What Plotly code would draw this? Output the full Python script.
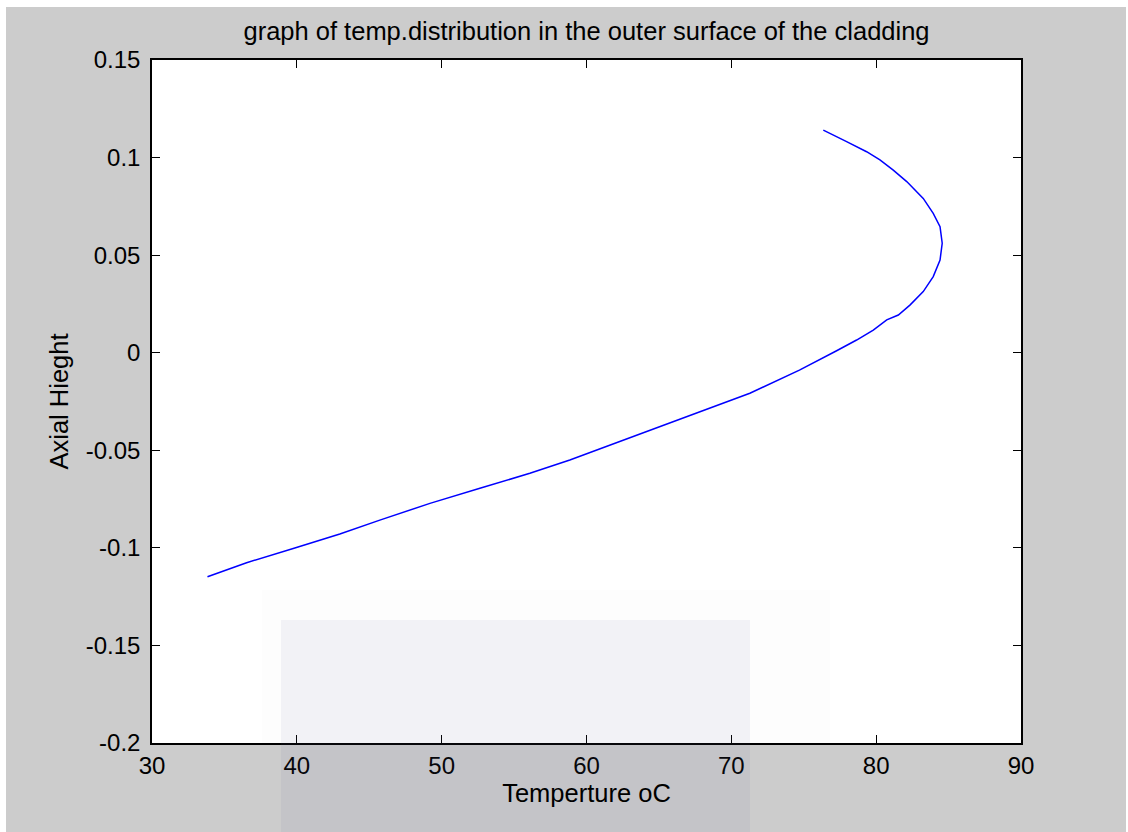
import plotly.graph_objects as go

# Data
temperature = [33.83, 36.53, 39.75, 42.97, 45.73, 49.19, 52.64, 56.09, 58.85, 62.3,
               65.76, 69.2, 71.28, 74.7, 75.89, 77.27, 78.65, 79.80, 80.73, 81.53,
               82.33, 83.25, 83.94, 84.41, 84.56, 84.41, 83.94, 83.25, 82.11, 81.18,
               80.26, 79.34, 77.96, 76.35]
axial_height = [-0.1148, -0.1076, -0.1003, -0.0929, -0.0858, -0.0772, -0.0695, -0.0618,
                -0.055, -0.0456, -0.0362, -0.0268, -0.0208, -0.0089, -0.0045, 0.0010,
                0.0065, 0.0116, 0.0168, 0.0193, 0.0244, 0.0313, 0.0390, 0.0475, 0.0561,
                0.0646, 0.0714, 0.0791, 0.0877, 0.0936, 0.0988, 0.1030, 0.1082, 0.1141]

x_ticks = [30, 40, 50, 60, 70, 80, 90]
y_ticks = [0.15, 0.1, 0.05, 0, -0.05, -0.1, -0.15, -0.2]
y_tick_text = ["0.15", "0.1", "0.05", "0", "-0.05", "-0.1", "-0.15", "-0.2"]

FONT = "Liberation Sans, Arial, sans-serif"

fig = go.Figure()
fig.add_trace(go.Scatter(x=temperature, y=axial_height, mode="lines",
                         line=dict(color="#0000ff", width=1.5), showlegend=False,
                         hoverinfo="skip"))

W, H = 1128, 832
ml, mr, mt, mb = 152, 107, 60, 89
pw, ph = W - ml - mr, H - mt - mb

def px(xp):
    return (xp - ml) / pw

def py(yp):
    return (H - mb - yp) / ph

shapes = [
    # white borders of the screenshot
    dict(type="rect", xref="paper", yref="paper", x0=px(0), x1=px(W), y0=py(7), y1=py(0),
         fillcolor="white", line_width=0, layer="below"),
    dict(type="rect", xref="paper", yref="paper", x0=px(0), x1=px(6), y0=py(H), y1=py(0),
         fillcolor="white", line_width=0, layer="below"),
    dict(type="rect", xref="paper", yref="paper", x0=px(W - 2), x1=px(W), y0=py(H), y1=py(0),
         fillcolor="white", line_width=0, layer="below"),
    # faint watermark band
    dict(type="rect", xref="paper", yref="paper", x0=px(262), x1=px(830), y0=py(743), y1=py(590),
         fillcolor="rgba(120,120,150,0.015)", line_width=0, layer="above"),
    dict(type="rect", xref="paper", yref="paper", x0=px(281), x1=px(750), y0=py(H), y1=py(620),
         fillcolor="rgba(100,100,150,0.07)", line_width=0, layer="above"),
]

fig.update_layout(
    width=W, height=H,
    margin=dict(l=ml, r=mr, t=mt, b=mb, pad=0),
    paper_bgcolor="#cccccc",
    plot_bgcolor="white",
    font=dict(family=FONT, size=24, color="black"),
    title=dict(text="graph of temp.distribution in the outer surface of the cladding",
               x=0.5, xref="paper", xanchor="center", y=1 - 31 / H, yanchor="middle",
               font=dict(family=FONT, size=25.5, color="black")),
    shapes=shapes,
    xaxis=dict(range=[30, 90], tickvals=x_ticks, ticktext=[str(v) for v in x_ticks],
               ticks="inside", ticklen=8, tickwidth=1, tickcolor="black",
               showline=True, linecolor="black", linewidth=1.5, mirror="ticks",
               showgrid=False, zeroline=False,
               title=dict(text="Temperture oC", standoff=6,
                          font=dict(family=FONT, size=25.5)),
               tickfont=dict(family=FONT, size=24)),
    yaxis=dict(range=[-0.2, 0.15], tickvals=y_ticks, ticktext=y_tick_text,
               ticks="inside", ticklen=8, tickwidth=1, tickcolor="black",
               showline=True, linecolor="black", linewidth=1.5, mirror="ticks",
               showgrid=False, zeroline=False, ticklabelstandoff=5,
               title=dict(text="Axial Hieght", standoff=10,
                          font=dict(family=FONT, size=25.5)),
               tickfont=dict(family=FONT, size=24)),
)

fig.write_html("out.html")
